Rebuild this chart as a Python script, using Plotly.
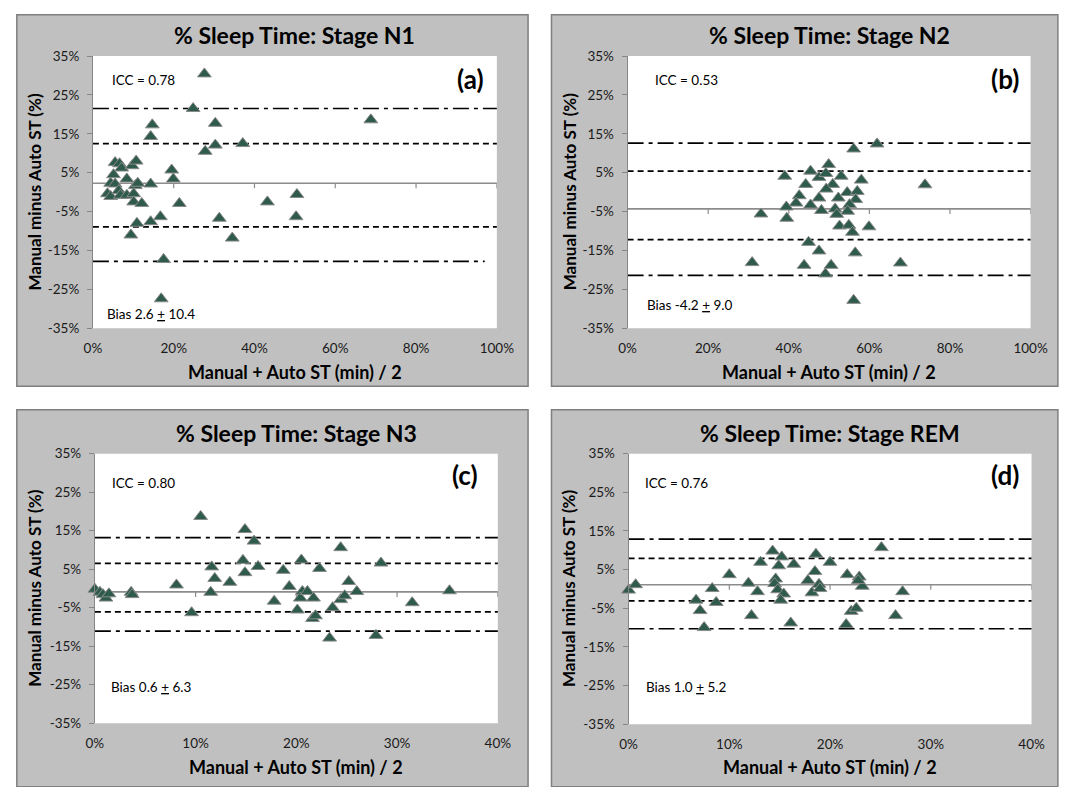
import plotly.graph_objects as go

W, H = 1070, 787

# ---------------- data ----------------
# Panel (a) Stage N1
n1_x = [5.5, 6.6, 7.1, 5.1, 4.4, 3.6, 4.4, 5.5, 6.4, 6.8, 8.4, 8.4, 9.7, 10.7, 10.5, 11.1,
        10.1, 10.1, 12.1, 14.3, 10.9, 9.4, 14.3, 16.7, 17.5, 16.9, 19.5, 19.9, 21.4, 14.7,
        14.3, 24.8, 27.6, 30.3, 30.3, 27.8, 37.1, 31.3, 34.5, 43.2, 50.5, 50.3, 68.8]
n1_y = [7.6, 7.3, 6.2, 4.5, 2.3, -0.4, -1.1, 2.1, 0.4, -0.8, 3.4, -0.8, 6.8, 8.0, 1.7, 2.3,
        -0.4, -2.5, -2.9, 2.1, -8.0, -11.0, -7.6, -6.3, -17.3, -27.4, 5.7, 3.4, -2.9, 17.3,
        14.3, 21.5, 30.4, 17.7, 12.1, 10.5, 12.5, -6.7, -11.8, -2.5, -0.6, -6.3, 18.6]
n1_lines = [2.3, 12.5, -8.9, 21.5, -17.8]      # bias, dashed hi/lo, dash-dot hi/lo

# Panel (b) Stage N2
n2_x = [61.9, 56.1, 49.9, 45.4, 39.0, 47.5, 53.0, 58.0, 49.2, 44.2, 50.9, 73.8, 42.6, 49.3,
        47.5, 52.3, 54.5, 57.0, 56.6, 41.8, 39.4, 45.4, 51.5, 55.1, 48.1, 54.6, 51.9, 39.5,
        52.6, 54.9, 59.9, 55.8, 44.9, 47.5, 56.5, 43.8, 50.5, 49.1, 67.7, 56.1, 33.1, 30.9]
n2_y = [12.4, 11.1, 7.1, 5.4, 4.1, 3.8, 4.1, 3.1, 4.8, 2.0, 2.0, 1.9, -0.9, 0.8,
        -1.5, -1.5, -0.1, 0.2, -1.9, -2.8, -3.8, -3.3, -4.3, -3.2, -4.7, -4.9, -5.7, -6.7,
        -8.7, -8.5, -8.9, -10.3, -12.9, -15.1, -15.6, -18.8, -18.8, -21.0, -18.2, -27.8, -5.6, -18.1]
n2_lines = [-4.3, 5.4, -12.2, 12.6, -21.4]

# Panel (c) Stage N3
n3_x = [0.0, 0.5, 0.8, 1.1, 1.4, 3.6, 3.7, 8.1, 10.5, 9.6, 11.6, 11.9, 11.5, 13.4, 14.9,
        15.8, 14.7, 14.9, 16.2, 17.8, 18.7, 19.3, 20.5, 20.6, 20.4, 21.1, 20.1, 21.7, 21.6,
        21.9, 22.3, 23.6, 23.3, 24.4, 24.4, 24.8, 25.2, 26.0, 27.9, 28.4, 31.5, 35.2]
n3_y = [-0.2, -1.0, -1.6, -2.5, -1.4, -1.0, -1.6, 0.9, 18.7, -6.3, 5.6, 2.6, -1.0, 1.6, 15.3,
        12.3, 7.3, 4.1, 5.7, -3.3, 4.7, 0.5, 7.4, -0.8, -2.5, -0.8, -5.6, -2.5, -7.8,
        -7.1, 5.2, -5.0, -12.9, 10.6, -2.9, -1.9, 1.8, -0.8, -12.2, 6.6, -3.7, -0.6]
n3_lines = [-0.9, 6.5, -6.1, 13.2, -11.1]

# Panel (d) Stage REM
rem_x = [0.0, 0.7, 6.7, 7.1, 7.5, 8.3, 8.7, 10.0, 11.9, 12.2, 12.8, 13.1, 14.3, 14.6, 14.5,
         14.8, 15.2, 14.9, 15.4, 15.1, 16.1, 16.4, 17.8, 18.6, 18.5, 18.2, 18.9, 19.0, 20.0,
         21.7, 22.1, 22.6, 21.6, 22.9, 23.2, 22.8, 25.1, 26.5, 27.2]
rem_y = [-0.3, 1.1, -2.9, -5.6, -10.0, 0.1, -3.5, 3.7, 1.5, -6.9, -0.7, 6.9, 9.8, 2.6, 1.4,
         -0.2, 8.3, 6.0, -1.3, -2.9, -8.8, 6.4, 2.2, 9.0, 4.5, -1.0, 1.2, 0.1, 6.9,
         3.7, -5.8, -5.0, -9.2, 3.1, 0.7, 2.2, 10.7, -6.9, -0.7]
rem_lines = [1.1, 7.9, -3.1, 12.9, -10.3]

titles = ["% Sleep Time: Stage N1", "% Sleep Time: Stage N2",
          "% Sleep Time: Stage N3", "% Sleep Time: Stage REM"]
letters = ["(a)", "(b)", "(c)", "(d)"]
icc_text = ["ICC = 0.78", "ICC = 0.53", "ICC = 0.80", "ICC = 0.76"]
bias_text = ["Bias 2.6 <u>+</u> 10.4", "Bias -4.2 <u>+</u> 9.0",
             "Bias 0.6 <u>+</u> 6.3", "Bias 1.0 <u>+</u> 5.2"]
y_ticks = [-35, -25, -15, -5, 5, 15, 25, 35]
x_ticks_wide = [0, 20, 40, 60, 80, 100]
x_ticks_narrow = [0, 10, 20, 30, 40]

# ---------------- layout geometry (pixels) ----------------
panels = [
    dict(x=n1_x, y=n1_y, lines=n1_lines, xt=x_ticks_wide, lo_end=0.97,
         box=(8, 7, 532, 386), plot=(86, 49, 500, 327),
         title_y=28, xtitle_y=372, ytitle_x=26, icc=(104, 74), let=(473, 72), bias=(98, 312)),
    dict(x=n2_x, y=n2_y, lines=n2_lines, xt=x_ticks_wide, lo_end=1.0,
         box=(556, 7, 1075, 386), plot=(634, 49, 1047, 327),
         title_y=28, xtitle_y=372, ytitle_x=574, icc=(660, 74), let=(1021, 72), bias=(652, 303)),
    dict(x=n3_x, y=n3_y, lines=n3_lines, xt=x_ticks_narrow, lo_end=1.0,
         box=(8, 410, 532, 795), plot=(88, 455, 501, 730),
         title_y=434, xtitle_y=775, ytitle_x=26, icc=(104, 485), let=(467, 477), bias=(103, 693)),
    dict(x=rem_x, y=rem_y, lines=rem_lines, xt=x_ticks_narrow, lo_end=1.0,
         box=(556, 410, 1075, 795), plot=(635, 455, 1048, 731),
         title_y=434, xtitle_y=775, ytitle_x=574, icc=(650, 485), let=(1021, 477), bias=(651, 693)),
]

def px(v):
    return v / W

def py(v):
    return 1 - v / H

FONT = "Lato, 'Open Sans', sans-serif"
fig = go.Figure()
shapes = []
annotations = []

for i, p in enumerate(panels):
    k = "" if i == 0 else str(i + 1)
    xa, ya = "x" + k, "y" + k
    bx0, by0, bx1, by1 = p["box"]
    x0, y0, x1, y1 = p["plot"]
    xmax = p["xt"][-1]

    # panel background and white plot area
    shapes.append(dict(type="rect", xref="paper", yref="paper", x0=px(bx0), x1=px(bx1),
                       y0=py(by1), y1=py(by0), fillcolor="#C0C0C0",
                       line=dict(color="#7F7F7F", width=1.5), layer="below"))
    shapes.append(dict(type="rect", xref="paper", yref="paper", x0=px(x0), x1=px(x1),
                       y0=py(y1), y1=py(y0), fillcolor="white",
                       line=dict(width=0), layer="below"))

    bias, dhi, dlo, ddhi, ddlo = p["lines"]
    # bias (horizontal axis) line
    shapes.append(dict(type="line", xref=xa + " domain", yref=ya, x0=0, x1=1, y0=bias, y1=bias,
                       line=dict(color="#8C8C8C", width=1.6), layer="below"))
    for t in p["xt"][1:]:
        shapes.append(dict(type="line", xref=xa, yref=ya, x0=t, x1=t, ysizemode="pixel",
                           yanchor=bias, y0=0, y1=-5,
                           line=dict(color="#8C8C8C", width=1.2), layer="below"))
    for v in (dhi, dlo):
        shapes.append(dict(type="line", xref=xa + " domain", yref=ya, x0=0, x1=1, y0=v, y1=v,
                           line=dict(color="black", width=1.7, dash="6px,4px"), layer="below"))
    for v, end in ((ddhi, 1.0), (ddlo, p["lo_end"])):
        shapes.append(dict(type="line", xref=xa + " domain", yref=ya, x0=0, x1=end, y0=v, y1=v,
                           line=dict(color="black", width=1.7, dash="16px,5px,4px,5px"),
                           layer="below"))

    fig.add_trace(go.Scatter(
        x=p["x"], y=p["y"], mode="markers", xaxis=xa, yaxis=ya, cliponaxis=False,
        marker=dict(symbol="triangle-up", size=12, color="#2E5B4B",
                    line=dict(color="#8A8A8A", width=1)),
        showlegend=False, hoverinfo="x+y"))

    fig.update_layout({
        ("xaxis" + k): dict(domain=[px(x0), px(x1)], anchor=ya, range=[0, xmax],
                            tickvals=p["xt"], ticktext=[f"{t}%" for t in p["xt"]],
                            showline=False, ticks="", showgrid=False, zeroline=False,
                            ticklabelstandoff=10,
                            tickfont=dict(family=FONT, size=13.5, color="#1A1A1A")),
        ("yaxis" + k): dict(domain=[py(y1), py(y0)], anchor=xa, range=[-35, 35],
                            tickvals=y_ticks, ticktext=[f"{t}%" for t in y_ticks],
                            showline=True, linecolor="#868686", linewidth=1,
                            ticks="outside", ticklen=5, tickcolor="#868686",
                            showgrid=False, zeroline=False, ticklabelstandoff=5,
                            tickfont=dict(family=FONT, size=13.5, color="#1A1A1A")),
    })

    cx = (x0 + x1) / 2
    cy = (y0 + y1) / 2
    annotations += [
        dict(text="<b>" + titles[i] + "</b>", x=px(cx), y=py(p["title_y"]), xref="paper",
             yref="paper", showarrow=False, xanchor="center", yanchor="middle",
             font=dict(family=FONT, size=23, color="black")),
        dict(text="<b>Manual + Auto ST (min) / 2</b>", x=px(cx), y=py(p["xtitle_y"]),
             xref="paper", yref="paper", showarrow=False, xanchor="center", yanchor="middle",
             font=dict(family=FONT, size=18, color="black")),
        dict(text="<b>Manual minus Auto ST (%)</b>", x=px(p["ytitle_x"]), y=py(cy),
             xref="paper", yref="paper", showarrow=False, textangle=-90,
             xanchor="center", yanchor="middle",
             font=dict(family=FONT, size=17, color="black")),
        dict(text=icc_text[i], x=px(p["icc"][0]), y=py(p["icc"][1]), xref="paper",
             yref="paper", showarrow=False, xanchor="left", yanchor="middle",
             font=dict(family=FONT, size=13.5, color="black")),
        dict(text="<b>" + letters[i] + "</b>", x=px(p["let"][0]), y=py(p["let"][1]),
             xref="paper", yref="paper", showarrow=False, xanchor="center", yanchor="middle",
             font=dict(family=FONT, size=26, color="black")),
        dict(text=bias_text[i], x=px(p["bias"][0]), y=py(p["bias"][1]), xref="paper",
             yref="paper", showarrow=False, xanchor="left", yanchor="middle",
             font=dict(family=FONT, size=13.5, color="black")),
    ]

fig.update_layout(
    autosize=True, margin=dict(l=0, r=0, t=0, b=0),
    paper_bgcolor="white", plot_bgcolor="rgba(0,0,0,0)",
    shapes=shapes, annotations=annotations, showlegend=False,
    font=dict(family=FONT),
)

POST = (
    "var d=document.getElementById('{plot_id}');"
    "[document.documentElement, document.body].forEach(function(e){"
    "e.style.margin='0';e.style.padding='0';e.style.overflow='hidden';});"
    "d.style.position='fixed';d.style.left='0';d.style.top='0';"
    "d.style.width=window.innerWidth+'px';d.style.height=window.innerHeight+'px';"
    "Plotly.Plots.resize(d);"
)

fig.write_html(
    "out.html",
    default_width="100vw",
    default_height="100vh",
    config={"displayModeBar": False, "responsive": True},
    post_script=POST,
)
